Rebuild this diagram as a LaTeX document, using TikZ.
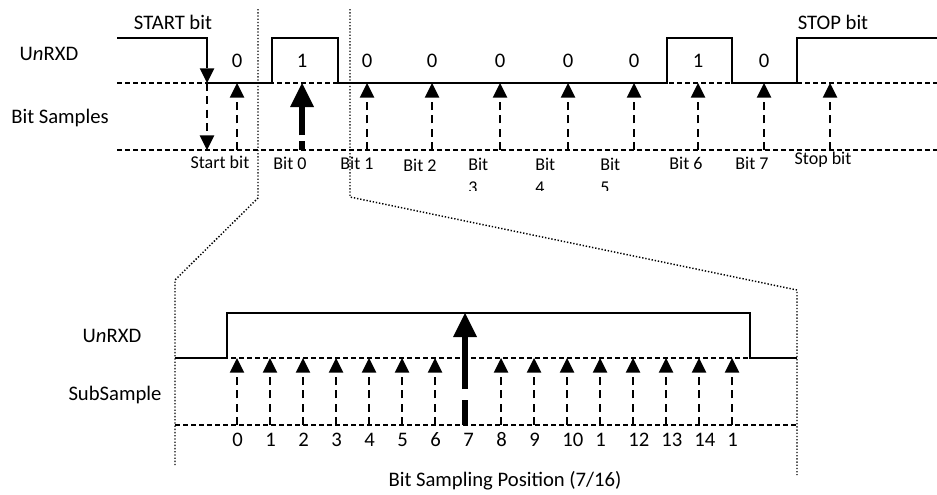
\documentclass[tikz,border=0pt]{standalone}
\usepackage{fontspec}
\setmainfont{Carlito}
\usetikzlibrary{arrows.meta}

\begin{document}
\begin{tikzpicture}[x=0.75pt, y=-0.75pt,
    every node/.style={font=\fontsize{15.5}{18}\selectfont, inner sep=0pt},
    sig/.style={line width=1.7pt},
    level/.style={line width=1.4pt, dash pattern=on 3.75pt off 2.25pt},
    smp/.style={line width=2.2pt, dash pattern=on 6pt off 4pt, -{Triangle[width=11pt,length=11pt,line width=0pt]}},
    bigsmp/.style={line width=4.8pt, -{Triangle[width=18pt,length=18pt,line width=0pt]}},
    zoomline/.style={line width=1.1pt, dash pattern=on 1pt off 1.4pt},
    bitlbl/.style={font=\fontsize{13.5}{17}\selectfont}]
  \useasboundingbox (0,0) rectangle (937,494);
  % frame view
  \draw[level] (117,83) -- (937,83);
  \draw[level] (117,150) -- (937,150);
  \draw[sig,-{Triangle[width=11pt,length=11pt,line width=0pt]}] (117,38) -- (207,38) -- (207,83);
  \draw[sig] (207,83) -- (272,83) -- (272,38) -- (338,38) -- (338,83) -- (667,83) -- (667,38)
    -- (732,38) -- (732,83) -- (797,83) -- (797,38) -- (937,38);
  \draw[smp] (207,83) -- (207,150);
  \foreach \x in {237,367,432,500,568,634,698,764,830}
    \draw[smp] (\x,150) -- (\x,83);
  \draw[bigsmp, dash pattern=on 7pt off 4pt on 40pt] (302,150) -- (302,83);
  \foreach \x/\v in {237/0,302/1,367/0,432/0,500/0,568/0,634/0,698/1,764/0}
    \node (v\x) at (\x,61) {\v};
  \node (startlbl) at (173,22) {START bit};
  \node (stoplbl) at (833,22) {STOP bit};
  \node (rxd) at (49,54) {U\textit{n}RXD};
  \node (samples) at (60,118) {Bit Samples};
  \node[bitlbl] (bstart) at (220,162) {Start bit};
  \node[bitlbl] (b0) at (290,163) {Bit 0};
  \node[bitlbl] (b1) at (357,163) {Bit 1};
  \node[bitlbl] (b2) at (420,165) {Bit 2};
  \begin{scope}
    \clip (440,152) rectangle (660,190);
    \foreach \x/\n in {468/3,535/4,600/5}
      \node[bitlbl, anchor=north west, align=left] (b\n) at (\x,158) {Bit\\\n};
  \end{scope}
  \node[bitlbl] (b6) at (686,163) {Bit 6};
  \node[bitlbl] (b7) at (752,163) {Bit 7};
  \node[bitlbl] (bstop) at (823,160) {Stop bit};
  % zoom
  \draw[zoomline] (258,9) -- (258,198) -- (175,280) -- (175,465);
  \draw[zoomline] (350,9) -- (350,197) -- (797,290) -- (797,475);
  % bit view
  \draw[level] (175,358) -- (797,358);
  \draw[level] (175,425) -- (797,425);
  \draw[sig] (175,358) -- (227,358) -- (227,313) -- (750,313) -- (750,358) -- (797,358);
  \foreach \i in {0,...,6,8,9,10,11,12,13,14,15}
    \draw[smp] ({237+33*\i},425) -- ({237+33*\i},358);
  \draw[bigsmp, dash pattern=on 19pt off 8pt on 70pt] (465,425) -- (465,313);
  \foreach \l [count=\i from 0] in {0,1,2,3,4,5,6,7,8,9,10,1,12,13,14,1}
    \node[anchor=west] (n\i) at ({232+33*\i},440) {\l};
  \node (rxdlow) at (112,336) {U\textit{n}RXD};
  \node (subsample) at (115,395) {SubSample};
  \node (position) at (505,481) {Bit Sampling Position (7/16)};
\end{tikzpicture}
\end{document}
